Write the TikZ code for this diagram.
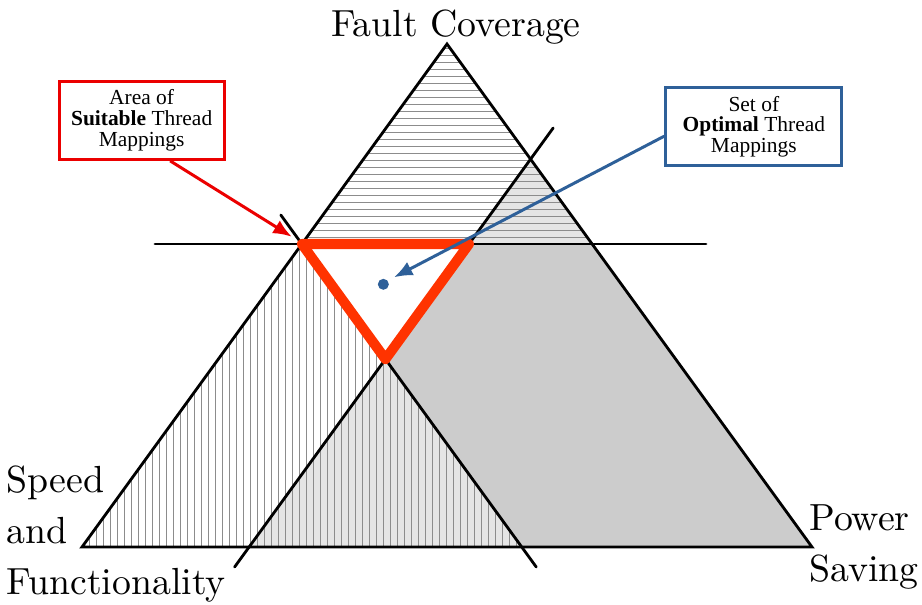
\documentclass[tikz,border=0pt]{standalone}
\usepackage{fontspec}
\newfontfamily\boxfont{Liberation Serif}
\newfontfamily\cornerfont{lmroman10-regular.otf}
\usetikzlibrary{arrows.meta}
\definecolor{suitred}{RGB}{235,0,0}
\definecolor{areared}{RGB}{255,51,0}
\definecolor{optblue}{RGB}{46,96,153}
\begin{document}
\begin{tikzpicture}[
    hatch/.style={black!45,line width=0.5pt},
    cutline/.style={line width=1.6pt,line cap=round},
    notebox/.style={draw,line width=1.8pt,align=center,text=black,inner sep=0pt,
      font=\boxfont\fontsize{12.2}{11.7}\selectfont,minimum height=1.56cm},
    pointer/.style={line width=1.7pt,-{Latex[length=0.37cm,width=0.3cm]}},
    cornertext/.style={font=\cornerfont\fontsize{21.5}{29}\selectfont,inner sep=0pt}
  ]
  \useasboundingbox (0,0) rectangle (18.44,12.08);

  % big triangle
  \coordinate (top) at (8.94,11.2);
  \coordinate (left) at (1.64,1.14);
  \coordinate (right) at (16.24,1.14);
  % inner triangle
  \coordinate (p1) at (6.0374,7.2);
  \coordinate (p2) at (9.38,7.2);
  \coordinate (p3) at (7.7087,4.8968);
  % cuts on the outline
  \coordinate (q) at (11.8426,7.2);
  \coordinate (r) at (10.611,8.897);
  \coordinate (d) at (10.4348,1.14);
  \coordinate (e) at (4.9826,1.14);
  % ends of the cut lines
  \coordinate (hl) at (3.1,7.2);
  \coordinate (hr) at (14.12,7.2);
  \coordinate (ua) at (5.6165,7.78);
  \coordinate (ub) at (10.725,0.74);
  \coordinate (va) at (11.0635,9.52);
  \coordinate (vb) at (4.692,0.74);

  % shading
  \fill[black!10] (r)--(p2)--(q)--cycle;
  \fill[black!10] (e)--(p3)--(d)--cycle;
  \fill[black!20] (p2)--(q)--(right)--(d)--(p3)--cycle;

  \begin{scope}
    \clip (top)--(p1)--(q)--cycle;
    \foreach \y in {1,...,29}
      \draw[hatch] (5,7.2+0.14*\y)--(13,7.2+0.14*\y);
  \end{scope}
  \begin{scope}
    \clip (left)--(p1)--(d)--cycle;
    \foreach \x in {1,...,63}
      \draw[hatch] (1.64+0.14*\x,1)--(1.64+0.14*\x,7.3);
  \end{scope}

  \draw[cutline] (top)--(left)--(right)--cycle;
  \draw[cutline] (hl)--(hr);
  \draw[cutline] (ua)--(ub);
  \draw[cutline] (va)--(vb);

  \fill[white] (p1)--(p2)--(p3)--cycle;
  \draw[areared,line width=5.7pt,line join=round] (p1)--(p2)--(p3)--cycle;

  \fill[optblue] (7.667,6.394) circle (0.11);

  \node[notebox,draw=suitred,minimum width=3.3cm] (suitbox) at (2.833,9.674)
    {Area of\\\textbf{Suitable} Thread\\Mappings};
  \node[notebox,draw=optblue,minimum width=3.52cm] (optbox) at (15.077,9.547)
    {Set of\\\textbf{Optimal} Thread\\Mappings};

  \coordinate (suittip) at (5.834,7.346);
  \coordinate (opttip) at (7.88,6.534);
  \draw[pointer,suitred] ([xshift=0.57cm]suitbox.south)--(suittip);
  \draw[pointer,optblue] ([yshift=-0.19cm]optbox.west)--(opttip);

  \node[cornertext,anchor=base] (fc) at (9.12,11.36) {Fault Coverage};
  \node[cornertext,anchor=north west,align=left] (sf) at (0.13,2.77)
    {Speed\\and\\Functionality};
  \node[cornertext,anchor=north west,align=left] (ps) at (16.18,2.0)
    {Power\\Saving};
\end{tikzpicture}
\end{document}
